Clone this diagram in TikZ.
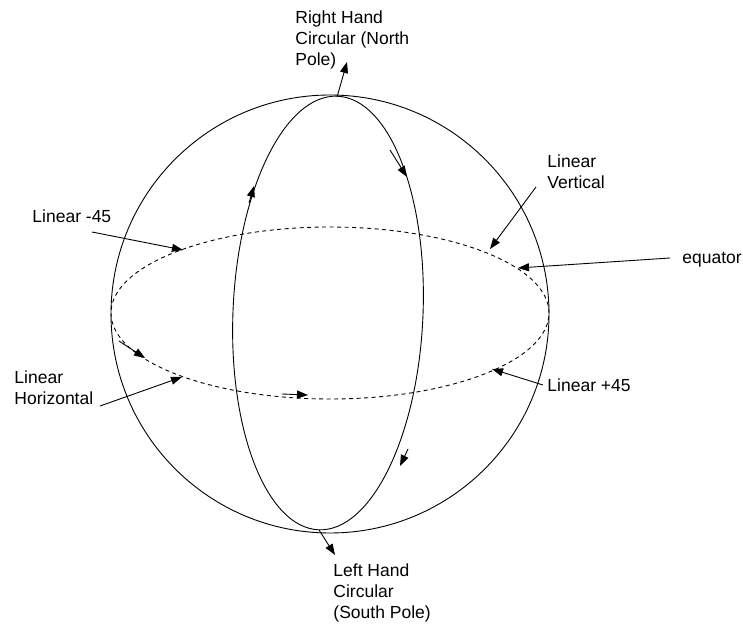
\documentclass[tikz,border=0pt]{standalone}
\usepackage{fontspec}
\setmainfont{Liberation Sans}
\usetikzlibrary{arrows.meta}
\begin{document}
\begin{tikzpicture}[x=1pt,y=1pt,
  line width=0.9pt,
  label text/.style={font=\fontsize{17.5}{21}\selectfont, inner sep=0pt, align=left},
  pointer/.style={-{Triangle[length=11pt,width=8pt]}, line width=0.9pt},
  marker/.style={-{Triangle[length=11pt,width=8pt]}, line width=0.9pt},
  equator line/.style={dash pattern=on 4pt off 3.5pt, line width=0.9pt}]
\useasboundingbox (0,0) rectangle (743,624);

% sphere outline, meridian through the poles, and the equator
\draw (330,310) circle [radius=219];
\draw[rotate around={-2.5:(328,311)}] (328,311) ellipse [x radius=95, y radius=217];
\draw[equator line] (330,311) ellipse [x radius=219, y radius=86];

% direction markers along the curves
\coordinate (m1a) at (249,421); \coordinate (m1b) at (254,438);
\coordinate (m2a) at (390,474); \coordinate (m2b) at (407,447);
\coordinate (m3a) at (408,175); \coordinate (m3b) at (400,158);
\coordinate (m4a) at (119,283); \coordinate (m4b) at (145,266);
\coordinate (m5a) at (282,230); \coordinate (m5b) at (308,229);
\draw[marker] (m1a) -- (m1b);
\draw[marker] (m2a) -- (m2b);
\draw[marker] (m3a) -- (m3b);
\draw[marker] (m4a) -- (m4b);
\draw[marker] (m5a) -- (m5b);

% labels
\node[label text, anchor=north west] (rhc) at (295,613.5) {Right Hand\\Circular (North\\Pole)};
\node[label text, anchor=north west] (lhc) at (333,61) {Left Hand\\Circular\\(South Pole)};
\node[label text, anchor=north west] (lv) at (547,470) {Linear\\Vertical};
\node[label text, anchor=base west] (eq) at (682,360) {equator};
\node[label text, anchor=base west] (lp) at (547,233) {Linear +45};
\node[label text, anchor=base west] (lm) at (32,401) {Linear -45};
\node[label text, anchor=north west] (lh) at (14,254) {Linear\\Horizontal};

% label pointers
\coordinate (northpole) at (337,527); \coordinate (rhtip) at (347,562);
\coordinate (southpole) at (319,94);  \coordinate (lhtip) at (335,69);
\coordinate (lmstart) at (92,392);    \coordinate (lmtip) at (183,374);
\coordinate (lhstart) at (100,218);   \coordinate (lhtip2) at (182,247);
\coordinate (lvstart) at (536,437);   \coordinate (lvtip) at (490,375);
\coordinate (eqstart) at (670,366);   \coordinate (eqtip) at (518,356);
\coordinate (lpstart) at (543,239);   \coordinate (lptip) at (492,255);
\draw[pointer] (northpole) -- (rhtip);
\draw[pointer] (southpole) -- (lhtip);
\draw[pointer] (lmstart) -- (lmtip);
\draw[pointer] (lhstart) -- (lhtip2);
\draw[pointer] (lvstart) -- (lvtip);
\draw[pointer] (eqstart) -- (eqtip);
\draw[pointer] (lpstart) -- (lptip);
\end{tikzpicture}
\end{document}
